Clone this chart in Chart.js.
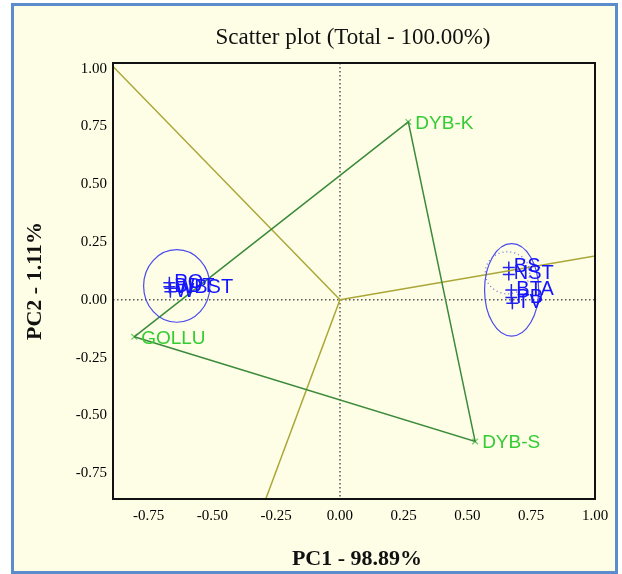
<!DOCTYPE html>
<html>
<head>
<meta charset="utf-8">
<script src="https://cdn.jsdelivr.net/npm/chart.js@4.4.1/dist/chart.umd.min.js"></script>
<style>
  html, body { margin: 0; padding: 0; background: #fff; }
  #frame {
    position: absolute; left: 11px; top: 3px; width: 601px; height: 565px;
    border: 3px solid #5b8ccc; background: #fefee6;
  }
  #plot { position: absolute; left: 0; top: 0; }
</style>
</head>
<body>
<div id="frame"></div>
<canvas id="plot" width="622" height="574"></canvas>
<script>
// environments (green vectors / triangle)
const envNames = ['GOLLU', 'DYB-K', 'DYB-S'];
const envX = [-0.807, 0.268, 0.530];
const envY = [-0.160, 0.770, -0.613];

// genotypes (blue crosses)
const genoNames = ['PO', 'BDT', 'WBST', 'W', 'BS', 'NST', 'BTA', 'PB', 'TV'];
const genoX = [-0.669, -0.669, -0.665, -0.665, 0.662, 0.662, 0.672, 0.672, 0.676];
const genoY = [0.074, 0.057, 0.050, 0.035, 0.140, 0.110, 0.043, 0.010, -0.015];

// rays from origin (perpendicular to triangle sides), end points at plot edge
const rayX = [-0.89, 1.00, -0.291];
const rayY = [1.010, 0.190, -0.862];

// ellipses: centre x, centre y, radius x, radius y (data units)
const ellX = [-0.640, 0.673, 0.657];
const ellY = [0.060, 0.043, 0.117];
const ellRX = [0.130, 0.106, 0.087];
const ellRY = [0.157, 0.200, 0.091];
const ellDash = [false, false, true];

const xTicks = [-0.75, -0.50, -0.25, 0.00, 0.25, 0.50, 0.75, 1.00];
const yTicks = [-0.75, -0.50, -0.25, 0.00, 0.25, 0.50, 0.75, 1.00];

const serif = '"Liberation Serif", "DejaVu Serif", serif';
const sans = '"Liberation Sans", Arial, sans-serif';

const triIdx = [0, 1, 2, 0];
const triangle = triIdx.map(i => ({ x: envX[i], y: envY[i] }));

const datasets = [{
  type: 'line',
  data: triangle,
  borderColor: '#3a8a3a',
  borderWidth: 1.5,
  pointRadius: 0,
  fill: false
}];

rayX.forEach((rx, i) => {
  datasets.push({
    type: 'line',
    data: [{ x: 0, y: 0 }, { x: rx, y: rayY[i] }],
    borderColor: '#aaa638',
    borderWidth: 1.5,
    pointRadius: 0,
    fill: false
  });
});

datasets.push({
  type: 'scatter',
  data: envX.map((x, i) => ({ x, y: envY[i] })),
  pointStyle: 'crossRot',
  pointRadius: 4,
  borderColor: '#66cc66',
  borderWidth: 1.2
});

datasets.push({
  type: 'scatter',
  data: genoX.map((x, i) => ({ x, y: genoY[i] })),
  pointStyle: 'cross',
  pointRadius: 6,
  borderColor: '#2222ee',
  borderWidth: 1.5
});

const decor = {
  id: 'decor',
  beforeDatasetsDraw(chart) {
    const { ctx, chartArea: a, scales: { x, y } } = chart;
    const x0 = x.getPixelForValue(0);
    const y0 = y.getPixelForValue(0);
    ctx.save();
    ctx.strokeStyle = '#555';
    ctx.lineWidth = 1.5;
    ctx.setLineDash([1.5, 2.5]);
    ctx.beginPath();
    ctx.moveTo(x0, a.top); ctx.lineTo(x0, a.bottom);
    ctx.moveTo(a.left, y0); ctx.lineTo(a.right, y0);
    ctx.stroke();
    ctx.restore();
  },
  afterDatasetsDraw(chart) {
    const { ctx, chartArea: a, scales: { x, y } } = chart;
    ctx.save();

    // ellipses
    ellX.forEach((cx, i) => {
      const px = x.getPixelForValue(cx);
      const py = y.getPixelForValue(ellY[i]);
      const rx = Math.abs(x.getPixelForValue(cx + ellRX[i]) - px);
      const ry = Math.abs(y.getPixelForValue(ellY[i] + ellRY[i]) - py);
      ctx.strokeStyle = ellDash[i] ? '#7777dd' : '#4a4aee';
      ctx.lineWidth = ellDash[i] ? 1.4 : 1.2;
      ctx.setLineDash(ellDash[i] ? [1, 3] : []);
      ctx.beginPath();
      ctx.ellipse(px, py, rx, ry, 0, 0, Math.PI * 2);
      ctx.stroke();
    });
    ctx.setLineDash([]);

    // environment labels
    ctx.font = '19px ' + sans;
    ctx.fillStyle = '#33cc33';
    ctx.textAlign = 'left';
    ctx.textBaseline = 'alphabetic';
    envNames.forEach((n, i) => {
      ctx.fillText(n, x.getPixelForValue(envX[i]) + 7, y.getPixelForValue(envY[i]) + 7);
    });

    // genotype labels
    ctx.font = '20px ' + sans;
    ctx.fillStyle = '#1414ff';
    genoNames.forEach((n, i) => {
      ctx.fillText(n, x.getPixelForValue(genoX[i]) + 5, y.getPixelForValue(genoY[i]) + 5);
    });

    // plot frame
    ctx.strokeStyle = '#111';
    ctx.lineWidth = 2;
    ctx.strokeRect(a.left, a.top, a.right - a.left, a.bottom - a.top);

    // titles
    ctx.fillStyle = '#111';
    ctx.textAlign = 'center';
    ctx.textBaseline = 'middle';
    ctx.font = '23px ' + serif;
    ctx.fillText('Scatter plot (Total - 100.00%)', 353, 38);
    ctx.font = 'bold 22px ' + serif;
    ctx.fillText('PC1 - 98.89%', 357, 559);
    ctx.translate(35, 281);
    ctx.rotate(-Math.PI / 2);
    ctx.fillText('PC2 - 1.11%', 0, 0);
    ctx.restore();
  }
};

const tickFont = { family: serif, size: 15 };

new Chart(document.getElementById('plot'), {
  data: { datasets },
  options: {
    responsive: false,
    animation: false,
    devicePixelRatio: 1,
    layout: { padding: { top: 63, right: 27, left: 0, bottom: 0 } },
    plugins: { legend: { display: false }, tooltip: { enabled: false }, title: { display: false } },
    scales: {
      x: {
        type: 'linear',
        min: -0.89,
        max: 1.0,
        grid: { display: false, drawTicks: false },
        border: { display: false },
        ticks: { font: tickFont, color: '#000', padding: 8, callback: v => v.toFixed(2) },
        afterBuildTicks: s => { s.ticks = xTicks.map(v => ({ value: v })); },
        afterFit: s => { s.height = 75; }
      },
      y: {
        type: 'linear',
        min: -0.862,
        max: 1.025,
        grid: { display: false, drawTicks: false },
        border: { display: false },
        ticks: { font: tickFont, color: '#000', padding: 6, callback: v => v.toFixed(2) },
        afterBuildTicks: s => { s.ticks = yTicks.map(v => ({ value: v })); },
        afterFit: s => { s.width = 113; }
      }
    }
  },
  plugins: [decor]
});
</script>
</body>
</html>
